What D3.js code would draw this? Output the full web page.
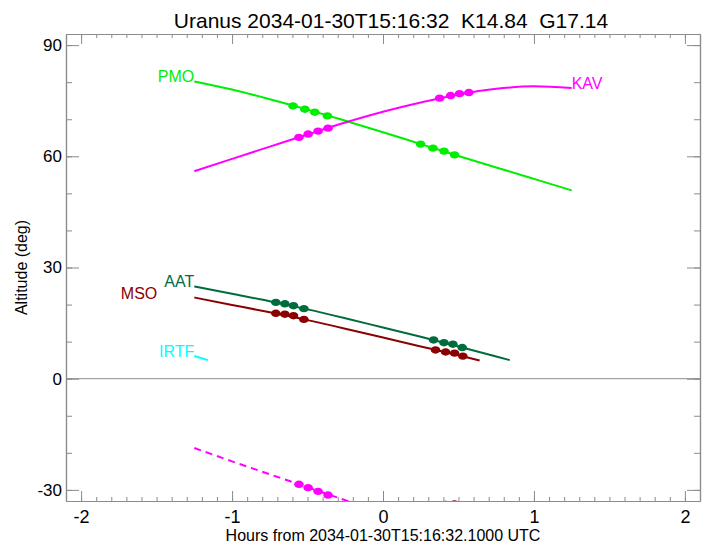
<!DOCTYPE html>
<html><head><meta charset="utf-8">
<script src="https://cdn.jsdelivr.net/npm/d3@7"></script>
<style>
html,body{margin:0;padding:0;background:#fff;}
text{font-family:"Liberation Sans",Arial,Helvetica,sans-serif;}
</style></head>
<body>
<svg id="chart" width="708" height="544"></svg>
<script>
// ---------- data ----------
const titleText = "Uranus 2034-01-30T15:16:32  K14.84  G17.14";
const xLabel = "Hours from 2034-01-30T15:16:32.1000 UTC";
const yLabel = "Altitude (deg)";
const xTicks = [-2, -1, 0, 1, 2];
const yTicks = [-30, 0, 30, 60, 90];

const pmoHours = [-1.25,-1.0,-0.75,-0.5,-0.25,0,0.25,0.5,0.75,1.0,1.25];
const pmoAlt   = [80.2,78.0,75.4,72.6,69.6,66.5,63.3,60.1,57.0,53.9,50.8];
const pmoDotHours = [-0.596,-0.518,-0.452,-0.368,0.249,0.331,0.404,0.474];
const pmoDotAlt   = [73.6,72.7,71.9,70.9,63.3,62.2,61.4,60.4];

const kavHours = [-1.25,-1.0,-0.75,-0.5,-0.25,0,0.25,0.5,0.75,1.0,1.25];
const kavAlt   = [56.0,59.3,62.6,65.9,69.1,72.0,74.5,76.7,78.2,78.9,78.4];
const kavDotHours = [-0.557,-0.496,-0.43,-0.364,0.375,0.448,0.507,0.569];
const kavDotAlt   = [65.1,66.0,66.8,67.6,75.7,76.4,76.9,77.2];

const aatHours = [-1.25,-1.0,-0.75,-0.5,-0.25,0,0.25,0.5,0.75,0.84];
const aatAlt   = [24.9,22.9,20.9,18.7,16.3,13.8,11.3,8.7,6.0,5.0];
const aatDotHours = [-0.71,-0.65,-0.593,-0.524,0.335,0.404,0.463,0.525];
const aatDotAlt   = [20.6,20.2,19.7,18.9,10.45,9.7,9.3,8.4];

const msoHours = [-1.25,-1.0,-0.75,-0.5,-0.25,0,0.25,0.5,0.64];
const msoAlt   = [21.9,19.9,17.9,15.8,13.5,11.1,8.7,6.3,4.9];
const msoDotHours = [-0.71,-0.65,-0.593,-0.524,0.348,0.415,0.474,0.529];
const msoDotAlt   = [17.65,17.4,17.0,16.0,7.75,7.2,6.9,6.1];

const irtfHours = [-1.25,-1.16];
const irtfAlt   = [6.1,5.0];

const kavLowHours = [-1.25,-1.0,-0.75,-0.5,-0.25,0];
const kavLowAlt   = [-18.7,-22.3,-25.8,-29.3,-32.8,-36.3];
const kavLowDotHours = [-0.557,-0.496,-0.43,-0.364];
const kavLowDotAlt   = [-28.5,-29.4,-30.4,-31.4];

const msoLowHours = [0.25,0.45,0.64];
const msoLowAlt   = [-34.6,-33.9,-33.2];
const msoLowDotHours = [0.348,0.415,0.474,0.529];
const msoLowDotAlt   = [-34.0,-33.9,-33.8,-34.0];

// ---------- layout ----------
const svg = d3.select("#chart");
const L = 66, R = 700, T = 34, B = 501;
const x = d3.scaleLinear().domain([-2.1, 2.1]).range([L, R]);
const y = d3.scaleLinear().domain([-33, 93]).range([B, T]);
const axisColor = "#8c8c8c";
const fmt = d => String(d); // plain hyphen minus like the reference

svg.append("defs").append("clipPath").attr("id","clip")
  .append("rect").attr("x",L).attr("y",T).attr("width",R-L).attr("height",B-T);

// zero line
svg.append("line").attr("x1",L).attr("x2",R).attr("y1",y(0)).attr("y2",y(0))
  .attr("stroke",axisColor).attr("stroke-width",1);

// axes
const minorX = d3.range(-21, 22).map(d => d/10);
const minorY = d3.range(-30, 91, 10);
function styleAxis(g){
  g.select(".domain").attr("stroke",axisColor).attr("stroke-width",1.2);
  g.selectAll(".tick line").attr("stroke",axisColor);
  g.selectAll(".tick text").attr("fill","#000").style("font-family",'"Liberation Sans",Arial,sans-serif');
}
const gxB = svg.append("g").attr("transform",`translate(0,${B})`)
  .call(d3.axisBottom(x).tickValues(minorX).tickSize(-4).tickFormat("").tickSizeOuter(0));
styleAxis(gxB);
const gxB2 = svg.append("g").attr("transform",`translate(0,${B})`)
  .call(d3.axisBottom(x).tickValues(xTicks).tickSize(-10).tickPadding(9).tickFormat(fmt).tickSizeOuter(0));
styleAxis(gxB2); gxB2.selectAll(".tick text").style("font-size","18px");
const gxT = svg.append("g").attr("transform",`translate(0,${T})`)
  .call(d3.axisTop(x).tickValues(minorX).tickSize(-4).tickFormat("").tickSizeOuter(0));
styleAxis(gxT);
const gxT2 = svg.append("g").attr("transform",`translate(0,${T})`)
  .call(d3.axisTop(x).tickValues(xTicks).tickSize(-10).tickFormat("").tickSizeOuter(0));
styleAxis(gxT2);

const gyL = svg.append("g").attr("transform",`translate(${L},0)`)
  .call(d3.axisLeft(y).tickValues(minorY).tickSize(-6).tickFormat("").tickSizeOuter(0));
styleAxis(gyL);
const gyL2 = svg.append("g").attr("transform",`translate(${L},0)`)
  .call(d3.axisLeft(y).tickValues(yTicks).tickSize(-13).tickPadding(4).tickFormat(fmt).tickSizeOuter(0));
styleAxis(gyL2); gyL2.selectAll(".tick text").style("font-size","17px").attr("x",-4);
const gyR = svg.append("g").attr("transform",`translate(${R},0)`)
  .call(d3.axisRight(y).tickValues(minorY).tickSize(-6).tickFormat("").tickSizeOuter(0));
styleAxis(gyR);
const gyR2 = svg.append("g").attr("transform",`translate(${R},0)`)
  .call(d3.axisRight(y).tickValues(yTicks).tickSize(-13).tickFormat("").tickSizeOuter(0));
styleAxis(gyR2);

// titles
svg.append("text").attr("x",391).attr("y",28).attr("text-anchor","middle")
  .attr("xml:space","preserve").style("white-space","pre")
  .style("font-size","21px").text(titleText);
svg.append("text").attr("x",383).attr("y",541).attr("text-anchor","middle")
  .style("font-size","16px").text(xLabel);
svg.append("text").attr("transform",`translate(27,${y(30)}) rotate(-90)`).attr("text-anchor","middle")
  .style("font-size","16px").text(yLabel);

// series
const plot = svg.append("g").attr("clip-path","url(#clip)");
const line = d3.line().x(d=>x(d[0])).y(d=>y(d[1])).curve(d3.curveMonotoneX);
const series = [
  {name:"PMO", color:"#00ee00", h:pmoHours, a:pmoAlt, dh:pmoDotHours, da:pmoDotAlt, lab:"start", dx:0},
  {name:"KAV", color:"#ff00ff", h:kavHours, a:kavAlt, dh:kavDotHours, da:kavDotAlt, lab:"end", dx:0},
  {name:"AAT", color:"#006b3c", h:aatHours, a:aatAlt, dh:aatDotHours, da:aatDotAlt, lab:"start", dx:0},
  {name:"MSO", color:"#8b0000", h:msoHours, a:msoAlt, dh:msoDotHours, da:msoDotAlt, lab:"start", dx:-37},
  {name:"IRTF", color:"#00ffff", h:irtfHours, a:irtfAlt, dh:[], da:[], lab:"start", dx:0},
  {name:"", color:"#ff00ff", h:kavLowHours, a:kavLowAlt, dh:kavLowDotHours, da:kavLowDotAlt, dash:"7,5"},
  {name:"", color:"#8b0000", h:msoLowHours, a:msoLowAlt, dh:msoLowDotHours, da:msoLowDotAlt, dash:"7,5"}
];
series.forEach(s=>{
  const pts = s.h.map((h,i)=>[h, s.a[i]]);
  plot.append("path").datum(pts).attr("d",line).attr("fill","none")
    .attr("stroke",s.color).attr("stroke-width",2)
    .attr("stroke-dasharray", s.dash || null);
  plot.selectAll(null).data(s.dh.map((h,i)=>[h, s.da[i]])).enter()
    .append("ellipse").attr("cx",d=>x(d[0])).attr("cy",d=>y(d[1]))
    .attr("rx",4.8).attr("ry",3.7).attr("fill",s.color);
  if (s.name){
    const p = s.lab === "end" ? pts[pts.length-1] : pts[0];
    svg.append("text").attr("x",x(p[0]) + s.dx).attr("y",y(p[1]) + 1)
      .attr("text-anchor", s.lab === "end" ? "start" : "end")
      .attr("fill",s.color).style("font-size","16px").text(s.name);
  }
});
</script>
</body></html>
